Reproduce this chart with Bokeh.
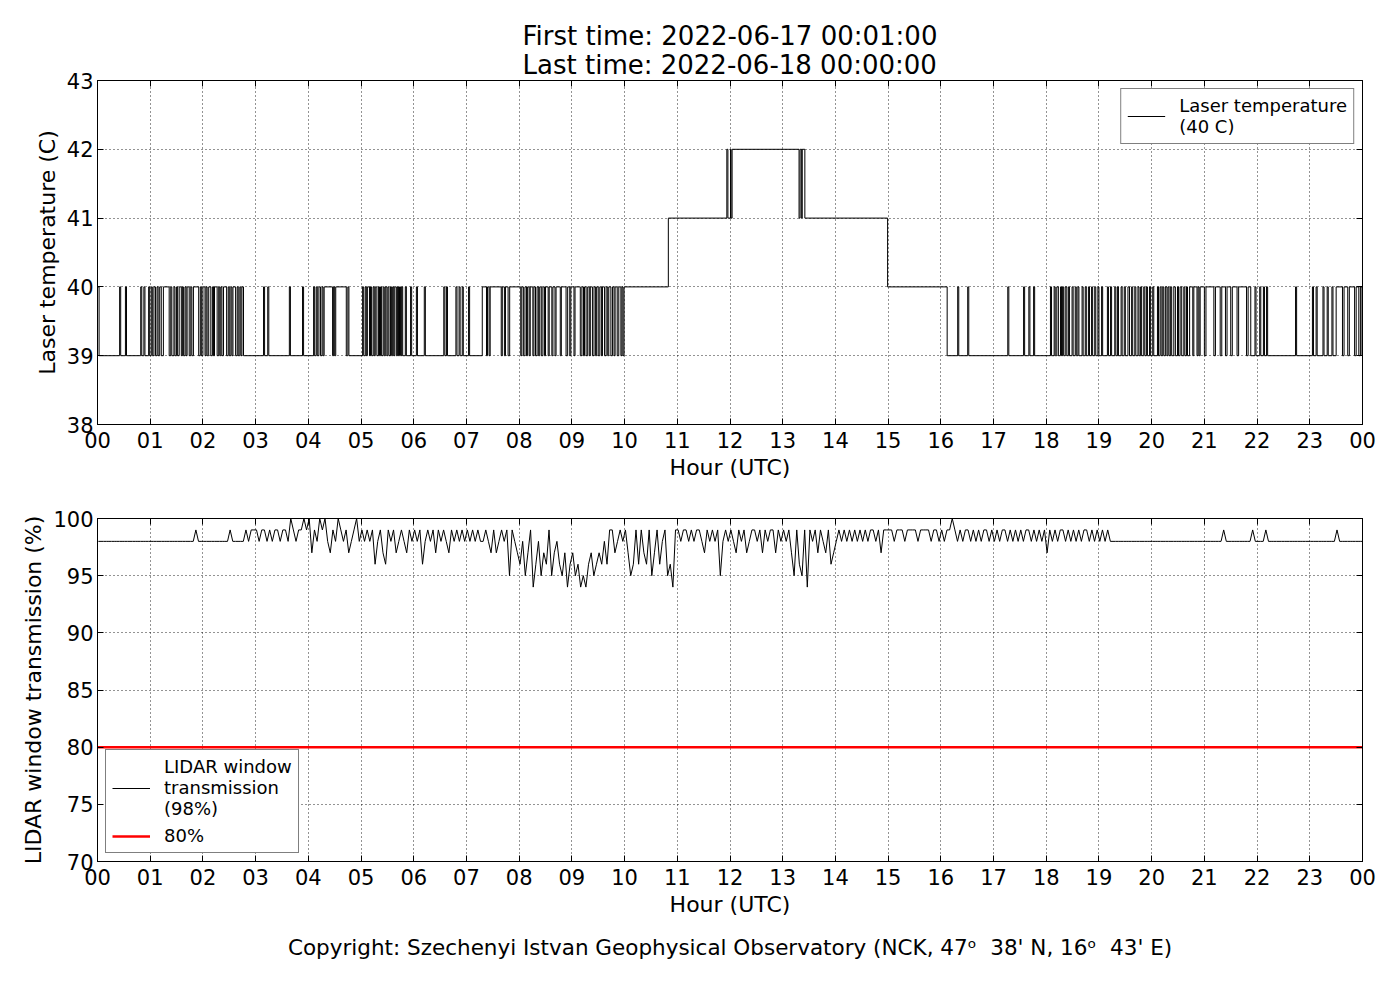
from bokeh.plotting import figure
from bokeh.models import (Range1d, FixedTicker, LinearAxis, Title, Legend,
                          LegendItem, CustomJSTickFormatter)
from bokeh.layouts import column
from bokeh.embed import file_html
from bokeh.resources import INLINE

FONT = "DejaVu Sans"

# ---------------- texts ----------------
title_first = "First time: 2022-06-17 00:01:00"
title_last = "Last time: 2022-06-18 00:00:00"
x_label = "Hour (UTC)"
temp_label = "Laser temperature (C)"
trans_label = "LIDAR window transmission (%)"
temp_legend = "Laser temperature\n(40 C)"
trans_legend = "LIDAR window\ntransmission\n(98%)"
limit_legend = "80%"
copyright_text = "Copyright: Szechenyi Istvan Geophysical Observatory (NCK, 47\u1d52\u00a0 38' N, 16\u1d52\u00a0 43' E)"

hour_ticks = [0, 1, 2, 3, 4, 5, 6, 7, 8, 9, 10, 11, 12, 13, 14, 15, 16, 17, 18, 19, 20, 21, 22, 23, 24]
hour_tick_labels = ["00", "01", "02", "03", "04", "05", "06", "07", "08", "09", "10", "11",
                    "12", "13", "14", "15", "16", "17", "18", "19", "20", "21", "22", "23", "00"]
temp_ticks = [38, 39, 40, 41, 42, 43]
trans_ticks = [70, 75, 80, 85, 90, 95, 100]
limit_value = 80
day_span = [0, 24]

# ---------------- laser temperature (C) ----------------
# base levels: segment start hour and level
temp_seg_start = [0.0, 7.30, 10.83, 12.04, 13.42, 14.99, 16.12]
temp_seg_level = [39, 40, 41, 42, 41, 40, 39]

# excursions (start hour, end hour) from the base level, grouped by the level reached
# morning: short rises to 40 C
temp_up_am_start = [
    0.00, 0.42, 0.53, 0.82, 0.88, 0.97, 1.02, 1.07, 1.13, 1.18, 1.25, 1.39, 1.45, 1.50, 1.55,
    1.61, 1.66, 1.70, 1.77, 1.82, 1.95, 2.00, 2.06, 2.11, 2.18, 2.22, 2.30, 2.34, 2.39, 2.48,
    2.53, 2.57, 2.65, 2.70, 2.74, 3.15, 3.23, 3.64, 3.89, 4.10, 4.15, 4.20, 4.26, 4.30, 4.48,
    4.52, 4.75, 5.03, 5.08, 5.12, 5.18, 5.23, 5.27, 5.33, 5.37, 5.42, 5.46, 5.51, 5.56, 5.60,
    5.64, 5.69, 5.73, 5.77, 5.84, 5.94, 6.05, 6.20, 6.57, 6.62, 6.80, 6.86, 6.92, 7.04]
temp_up_am_end = [
    0.03, 0.44, 0.55, 0.84, 0.90, 0.99, 1.04, 1.10, 1.15, 1.21, 1.36, 1.41, 1.47, 1.52, 1.59,
    1.63, 1.68, 1.74, 1.79, 1.92, 1.97, 2.04, 2.08, 2.15, 2.20, 2.27, 2.32, 2.36, 2.45, 2.50,
    2.55, 2.62, 2.67, 2.72, 2.77, 3.17, 3.25, 3.66, 3.91, 4.12, 4.17, 4.23, 4.28, 4.46, 4.50,
    4.72, 4.77, 5.05, 5.10, 5.16, 5.20, 5.25, 5.30, 5.35, 5.39, 5.44, 5.49, 5.53, 5.58, 5.62,
    5.67, 5.71, 5.75, 5.79, 5.86, 5.96, 6.07, 6.22, 6.59, 6.64, 6.82, 6.88, 6.94, 7.06]
# late morning: short drops to 39 C
temp_down_start = [
    7.38, 7.43, 7.66, 7.72, 7.79, 8.03, 8.08, 8.14, 8.19, 8.26, 8.31, 8.37, 8.42, 8.48, 8.55,
    8.62, 8.68, 8.78, 8.89, 8.96, 9.04, 9.16, 9.22, 9.27, 9.33, 9.39, 9.45, 9.50, 9.56, 9.62,
    9.68, 9.74, 9.80, 9.86, 9.93, 9.97]
temp_down_end = [
    7.40, 7.45, 7.68, 7.74, 7.82, 8.05, 8.11, 8.16, 8.21, 8.28, 8.34, 8.39, 8.45, 8.50, 8.57,
    8.64, 8.70, 8.80, 8.92, 8.98, 9.06, 9.19, 9.24, 9.30, 9.35, 9.42, 9.47, 9.53, 9.58, 9.65,
    9.70, 9.77, 9.82, 9.89, 9.95, 9.99]
# noon: 41 / 42 C flicker
temp_hi_start = [11.94, 12.01]
temp_hi_end = [11.96, 12.02]
temp_lo_start = [13.31, 13.36]
temp_lo_end = [13.33, 13.37]
# afternoon / evening: rises to 40 C
temp_up_pm_start = [
    16.32, 16.51, 17.27, 17.57, 17.67, 17.76, 18.08, 18.15, 18.20, 18.27, 18.31, 18.36, 18.42,
    18.49, 18.55, 18.60, 18.68, 18.74, 18.80, 18.86, 18.92, 18.98, 19.05, 19.16, 19.22, 19.30,
    19.35, 19.42, 19.48, 19.55, 19.62, 19.68, 19.74, 19.79, 19.85, 19.90, 19.96, 20.02, 20.11,
    20.16, 20.21, 20.26, 20.31, 20.36, 20.42, 20.49, 20.54, 20.61, 20.66, 20.72, 20.80, 20.88,
    20.92, 21.03, 21.21, 21.33, 21.43, 21.53, 21.65, 21.83, 21.96, 22.05, 22.12, 22.18, 22.73,
    23.05, 23.12, 23.25, 23.33, 23.42, 23.50, 23.65, 23.75, 23.88, 23.96]
temp_up_pm_end = [
    16.34, 16.53, 17.29, 17.59, 17.69, 17.78, 18.10, 18.17, 18.23, 18.29, 18.33, 18.39, 18.44,
    18.51, 18.57, 18.62, 18.70, 18.76, 18.82, 18.88, 18.94, 19.00, 19.07, 19.18, 19.24, 19.32,
    19.37, 19.44, 19.50, 19.58, 19.64, 19.70, 19.76, 19.81, 19.87, 19.92, 19.98, 20.04, 20.13,
    20.18, 20.23, 20.29, 20.33, 20.38, 20.45, 20.51, 20.57, 20.63, 20.68, 20.78, 20.86, 20.90,
    21.00, 21.18, 21.30, 21.40, 21.50, 21.62, 21.80, 21.88, 21.98, 22.07, 22.14, 22.20, 22.75,
    23.07, 23.14, 23.27, 23.35, 23.44, 23.62, 23.72, 23.85, 23.93, 23.99]

temp_groups = [(temp_up_am_start, temp_up_am_end, 40),
               (temp_down_start, temp_down_end, 39),
               (temp_hi_start, temp_hi_end, 42),
               (temp_lo_start, temp_lo_end, 41),
               (temp_up_pm_start, temp_up_pm_end, 40)]

# ---------------- LIDAR window transmission (%), 3-minute samples per hour ----------------
trans_h00 = [98, 98, 98, 98, 98, 98, 98, 98, 98, 98, 98, 98, 98, 98, 98, 98, 98, 98, 98, 98]
trans_h01 = [98, 98, 98, 98, 98, 98, 98, 98, 98, 98, 98, 98, 98, 98, 98, 98, 98, 99, 98, 98]
trans_h02 = [98, 98, 98, 98, 98, 98, 98, 98, 98, 98, 99, 98, 98, 98, 98, 98, 99, 98, 99, 99]
trans_h03 = [99, 98, 99, 99, 98, 99, 98, 99, 99, 98, 99, 99, 98, 100, 99, 98, 99, 99, 100, 99]
trans_h04 = [100, 97, 99, 98, 100, 99, 100, 98, 97, 99, 98, 100, 99, 98, 99, 97, 98, 99, 100, 98]
trans_h05 = [99, 98, 99, 98, 99, 96, 98, 99, 97, 96, 99, 98, 99, 97, 98, 99, 98, 97, 99, 98]
trans_h06 = [99, 98, 99, 96, 98, 99, 98, 99, 97, 99, 98, 99, 98, 97, 99, 98, 99, 98, 99, 98]
trans_h07 = [99, 98, 99, 98, 99, 98, 98, 99, 98, 97, 99, 97, 98, 99, 98, 99, 95, 99, 98, 97]
trans_h08 = [96, 98, 95, 97, 99, 94, 96, 98, 95, 97, 96, 99, 95, 97, 98, 96, 95, 97, 94, 96]
trans_h09 = [97, 95, 96, 94, 95, 94, 96, 97, 95, 96, 97, 96, 98, 96, 99, 99, 97, 98, 99, 98]
trans_h10 = [99, 97, 95, 96, 99, 96, 99, 97, 96, 99, 95, 97, 99, 96, 98, 99, 95, 96, 94, 99]
trans_h11 = [99, 98, 99, 99, 98, 99, 98, 99, 99, 98, 97, 99, 98, 99, 98, 99, 95, 98, 99, 98]
trans_h12 = [99, 98, 97, 99, 98, 99, 97, 98, 99, 99, 98, 99, 97, 99, 98, 99, 99, 97, 99, 98]
trans_h13 = [99, 98, 99, 97, 95, 99, 96, 95, 99, 94, 99, 98, 99, 97, 99, 98, 97, 99, 96, 97]
trans_h14 = [98, 99, 98, 99, 98, 99, 98, 99, 98, 99, 98, 99, 98, 99, 99, 98, 99, 97, 99, 99]
trans_h15 = [99, 99, 98, 99, 99, 99, 98, 99, 99, 99, 99, 98, 99, 99, 99, 99, 98, 99, 99, 98]
trans_h16 = [99, 98, 99, 99, 100, 99, 98, 99, 98, 99, 99, 98, 99, 98, 99, 98, 99, 99, 98, 99]
trans_h17 = [98, 99, 98, 99, 99, 98, 99, 98, 99, 98, 99, 98, 99, 99, 98, 99, 98, 99, 98, 99]
trans_h18 = [97, 99, 98, 99, 98, 99, 99, 98, 99, 98, 99, 98, 99, 98, 99, 99, 98, 99, 98, 99]
trans_h19 = [98, 99, 98, 99, 98, 98, 98, 98, 98, 98, 98, 98, 98, 98, 98, 98, 98, 98, 98, 98]
trans_h20 = [98, 98, 98, 98, 98, 98, 98, 98, 98, 98, 98, 98, 98, 98, 98, 98, 98, 98, 98, 98]
trans_h21 = [98, 98, 98, 98, 98, 98, 98, 99, 98, 98, 98, 98, 98, 98, 98, 98, 98, 98, 99, 98]
trans_h22 = [98, 98, 98, 99, 98, 98, 98, 98, 98, 98, 98, 98, 98, 98, 98, 98, 98, 98, 98, 98]
trans_h23 = [98, 98, 98, 98, 98, 98, 98, 98, 98, 98, 99, 98, 98, 98, 98, 98, 98, 98, 98, 98]
trans_last = 98

# ---------------- build series ----------------
def temp_at(t):
    lvl = temp_seg_level[0]
    for s, l in zip(temp_seg_start, temp_seg_level):
        if t >= s:
            lvl = l
    for starts, ends, l in temp_groups:
        for s, e in zip(starts, ends):
            if s <= t < e:
                lvl = l
    return lvl

all_bounds = list(temp_seg_start) + [24.0]
for starts, ends, l in temp_groups:
    all_bounds += list(starts) + list(ends)
temp_x = sorted(set(b for b in all_bounds if b <= 24.0))
temp_y = [temp_at(b) for b in temp_x]

trans_hours = [trans_h00, trans_h01, trans_h02, trans_h03, trans_h04, trans_h05, trans_h06,
               trans_h07, trans_h08, trans_h09, trans_h10, trans_h11, trans_h12, trans_h13,
               trans_h14, trans_h15, trans_h16, trans_h17, trans_h18, trans_h19, trans_h20,
               trans_h21, trans_h22, trans_h23]
trans_x, trans_y = [], []
for h, vals in enumerate(trans_hours):
    n = len(vals)
    for i, v in enumerate(vals):
        trans_x.append(h + (i + 0.33) / n)
        trans_y.append(v)
trans_x.append(24.0)
trans_y.append(trans_last)

# ---------------- styling helpers ----------------
def style(p, yticks, ylabel):
    p.outline_line_color = "black"
    p.outline_line_width = 1
    p.background_fill_color = "white"
    p.border_fill_color = "white"
    p.xaxis.ticker = FixedTicker(ticks=hour_ticks)
    p.xaxis.major_label_overrides = {t: l for t, l in zip(hour_ticks, hour_tick_labels)}
    p.xaxis.axis_label = x_label
    p.yaxis.ticker = FixedTicker(ticks=yticks)
    p.yaxis.axis_label = ylabel
    for ax in p.xaxis + p.yaxis:
        ax.axis_line_color = "black"
        ax.major_tick_in = 6
        ax.major_tick_out = 0
        ax.major_tick_line_color = "black"
        ax.minor_tick_line_color = None
        ax.major_label_text_font = FONT
        ax.major_label_text_font_size = "21px"
        ax.major_label_text_color = "black"
        ax.axis_label_text_font = FONT
        ax.axis_label_text_font_size = "22px"
        ax.axis_label_text_font_style = "normal"
        ax.axis_label_text_color = "black"
        ax.major_label_standoff = 4
        ax.axis_label_standoff = 4
    for ax in p.xaxis:
        ax.major_label_standoff = 7
    p.grid.grid_line_color = "black"
    p.grid.grid_line_dash = "1 3"
    p.grid.grid_line_width = 1
    p.grid.grid_line_alpha = 0.85
    blank = CustomJSTickFormatter(code="return ''")
    top = LinearAxis(ticker=FixedTicker(ticks=hour_ticks), formatter=blank,
                     major_tick_in=6, major_tick_out=0, minor_tick_line_color=None,
                     axis_line_color="black", major_label_standoff=0)
    right = LinearAxis(ticker=FixedTicker(ticks=yticks), formatter=blank,
                       major_tick_in=6, major_tick_out=0, minor_tick_line_color=None,
                       axis_line_color="black", major_label_standoff=0)
    p.add_layout(top, "above")
    p.add_layout(right, "right")


def legend_style(lg):
    lg.label_text_font = FONT
    lg.label_text_font_size = "18px"
    lg.label_text_color = "black"
    lg.border_line_color = "black"
    lg.border_line_width = 1
    lg.background_fill_color = "white"
    lg.background_fill_alpha = 1.0
    lg.glyph_width = 38
    lg.glyph_height = 20
    lg.label_standoff = 14
    lg.padding = 6
    lg.spacing = 6
    lg.margin = 8
    lg.label_height = 20

# ---------------- top figure ----------------
p1 = figure(width=1380, height=490, x_range=Range1d(0, 24), y_range=Range1d(38, 43),
            output_backend="svg", toolbar_location=None,
            min_border_left=97, min_border_right=18, min_border_top=80, min_border_bottom=66)
style(p1, temp_ticks, temp_label)
r_temp = p1.step(temp_x, temp_y, mode="after", line_color="black", line_width=1)
lg1 = Legend(items=[LegendItem(label=temp_legend, renderers=[r_temp])], location="top_right")
legend_style(lg1)
p1.add_layout(lg1, "center")
p1.add_layout(Title(text=title_first + "\n" + title_last, align="center", text_font=FONT,
                    text_font_size="26px", text_font_style="normal", text_color="black",
                    text_line_height=0.95, standoff=2), "above")

# ---------------- bottom figure ----------------
p2 = figure(width=1380, height=482, x_range=Range1d(0, 24), y_range=Range1d(70, 100),
            output_backend="svg", toolbar_location=None,
            min_border_left=97, min_border_right=18, min_border_top=28, min_border_bottom=110)
style(p2, trans_ticks, trans_label)
r_trans = p2.line(trans_x, trans_y, line_color="black", line_width=1)
r_limit = p2.line(day_span, [limit_value, limit_value], line_color="red", line_width=2.5)
lg2 = Legend(items=[LegendItem(label=trans_legend, renderers=[r_trans]),
                    LegendItem(label=limit_legend, renderers=[r_limit])],
             location="bottom_left")
legend_style(lg2)
p2.add_layout(lg2, "center")
p2.add_layout(Title(text=copyright_text, align="center", text_font=FONT, text_font_size="21.5px",
                    text_font_style="normal", text_color="black", standoff=26), "below")

layout = column(p1, p2)
open("out.html", "w").write(file_html(layout, INLINE))
